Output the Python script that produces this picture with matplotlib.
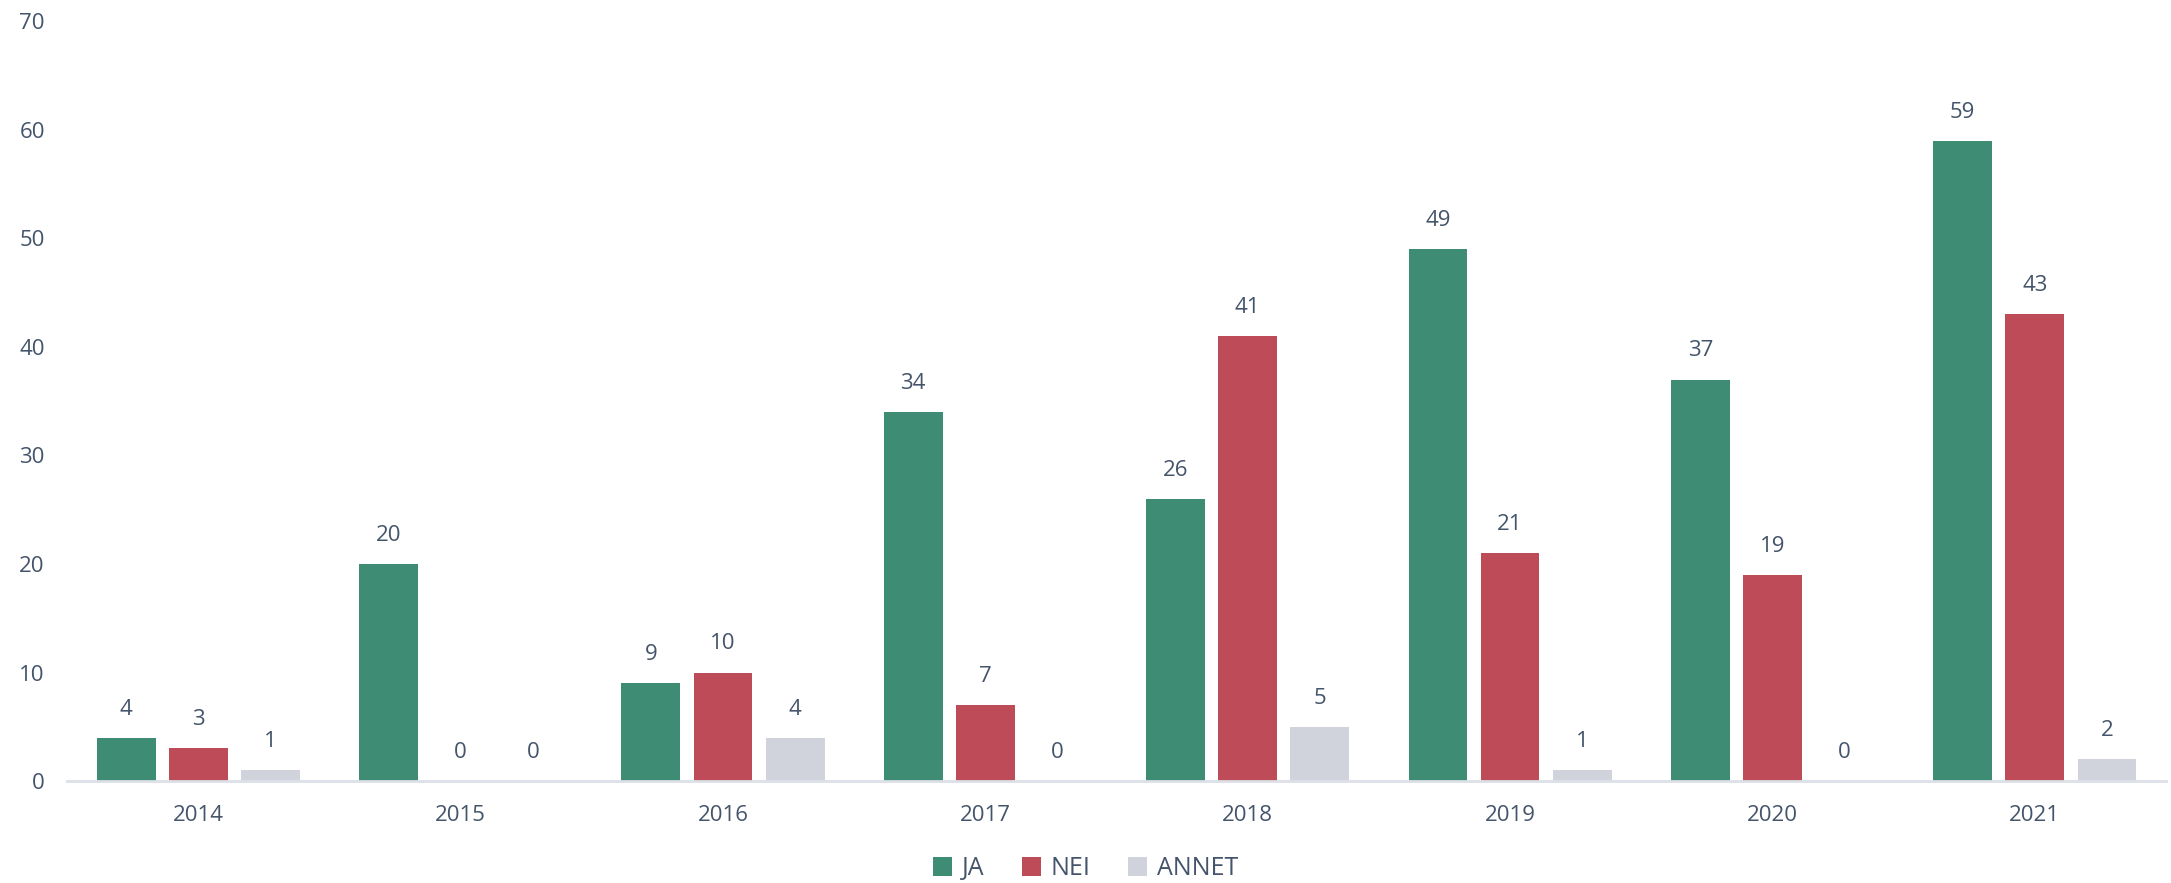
import matplotlib
matplotlib.use("Agg")
import matplotlib.pyplot as plt
import numpy as np

# data
years = ["2014", "2015", "2016", "2017", "2018", "2019", "2020", "2021"]
ja = [4, 20, 9, 34, 26, 49, 37, 59]
nei = [3, 0, 10, 7, 41, 21, 19, 43]
annet = [1, 0, 4, 0, 5, 1, 0, 2]
series_names = ["JA", "NEI", "ANNET"]

colors = ["#3E8C73", "#BE4B58", "#D0D3DC"]
txt = "#44546A"

plt.rcParams['font.family'] = ['Open Sans', 'DejaVu Sans']

fig = plt.figure(figsize=(21.71, 8.83), dpi=100)
ax = fig.add_axes([0.0309, 0.1155, 0.9668, 0.8602])

x = np.arange(len(years))
w = 0.224
offs = [-0.275, 0, 0.275]
for vals, off, c, name in zip([ja, nei, annet], offs, colors, series_names):
	bars = ax.bar(x + off, vals, width=w, color=c, label=name)
	for b, v in zip(bars, vals):
		ax.annotate(str(v), (b.get_x() + b.get_width()/2, v), xytext=(0, 13),
			textcoords="offset points", ha="center", va="bottom", fontsize=16, color=txt)

ax.set_xlim(-0.5, 7.5)
ax.set_ylim(0, 70)
ax.set_yticks(range(0, 71, 10))
ax.set_xticks(x)
ax.set_xticklabels(years)
ax.tick_params(axis="both", length=0, labelsize=16, labelcolor=txt)
ax.tick_params(axis="x", pad=17)
ax.tick_params(axis="y", pad=16)
for s in ["top", "right", "left"]:
	ax.spines[s].set_visible(False)
ax.spines["bottom"].set_color("#DCE0E7")
ax.spines["bottom"].set_linewidth(2)

fig.legend(loc="center", bbox_to_anchor=(0.5, 0.016), ncol=3, frameon=False, fontsize=18,
	labelcolor=txt, handlelength=0.75, handleheight=0.75, handletextpad=0.4, columnspacing=1.5)

fig.savefig("out.png", dpi=100)
